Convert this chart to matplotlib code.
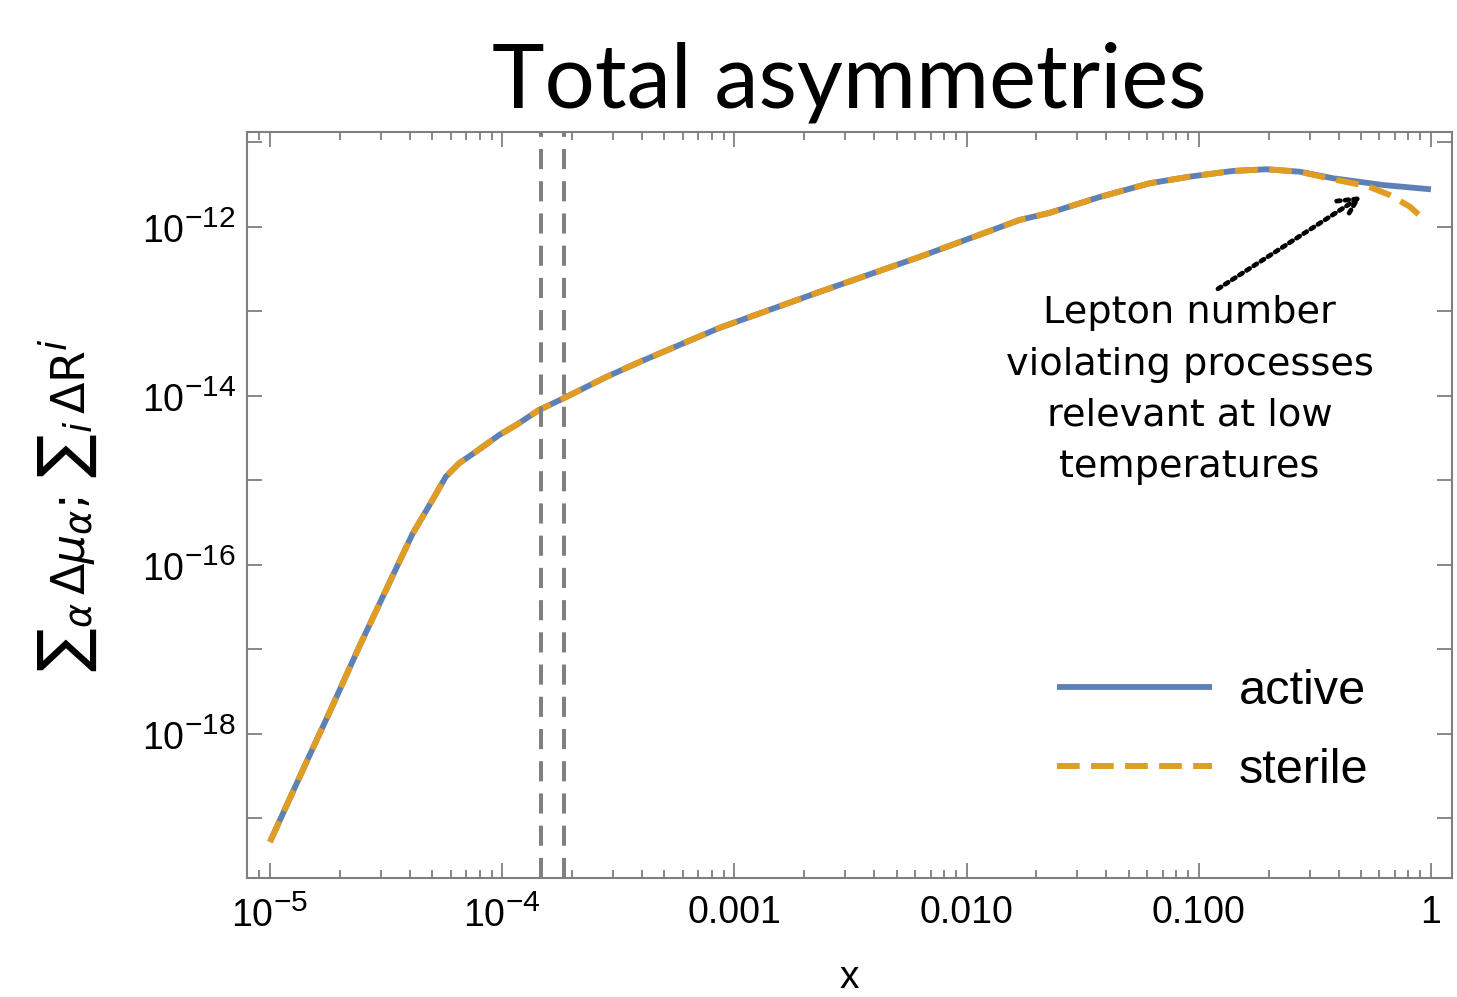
import numpy as np
import matplotlib.pyplot as plt
import matplotlib._mathtext as mathtext_internals
from matplotlib.ticker import FixedLocator, NullFormatter, FuncFormatter

plt.rcParams['mathtext.fontset'] = 'custom'
plt.rcParams['mathtext.rm'] = 'Liberation Sans'
plt.rcParams['mathtext.it'] = 'Liberation Sans:italic'
plt.rcParams['mathtext.bf'] = 'Liberation Sans:bold'
# bigger exponents, closer to the original tick labels
mathtext_internals.SHRINK_FACTOR = 0.8

# curves
x_active = [1.0e-5, 1.43e-5, 1.85e-5, 2.42e-5, 3.16e-5, 4.10e-5, 5.01e-5, 5.72e-5,
            6.53e-5, 7.71e-5, 9.70e-5, 1.15e-4, 1.44e-4, 1.85e-4, 2.81e-4, 3.90e-4, 8.61e-4,
            2.32e-3, 6.27e-3, 1.69e-2, 2.28e-2, 3.74e-2, 6.15e-2, 0.0914, 0.140, 0.196, 0.272,
            0.379, 0.621, 1.0]
y_active = [5.27e-20, 4.54e-19, 2.09e-18, 1.07e-17, 5.06e-17, 2.30e-16, 5.87e-16, 1.11e-15,
            1.60e-15, 2.19e-15, 3.45e-15, 4.54e-15, 6.82e-15, 9.46e-15, 1.68e-14, 2.52e-14, 6.38e-14,
            1.70e-13, 4.42e-13, 1.21e-12, 1.47e-12, 2.26e-12, 3.29e-12, 3.94e-12, 4.60e-12, 4.82e-12, 4.51e-12,
            3.77e-12, 3.14e-12, 2.79e-12]
x_sterile = [1.0e-5, 1.43e-5, 1.85e-5, 2.42e-5, 3.16e-5, 4.10e-5, 5.01e-5, 5.72e-5,
             6.53e-5, 7.71e-5, 9.70e-5, 1.15e-4, 1.44e-4, 1.85e-4, 2.81e-4, 3.90e-4, 8.61e-4,
             2.32e-3, 6.27e-3, 1.69e-2, 2.28e-2, 3.74e-2, 6.15e-2, 0.0914, 0.140, 0.196, 0.272,
             0.379, 0.530, 0.665, 0.811, 0.942]
y_sterile = [5.27e-20, 4.54e-19, 2.09e-18, 1.07e-17, 5.06e-17, 2.30e-16, 5.87e-16, 1.11e-15,
             1.60e-15, 2.19e-15, 3.45e-15, 4.54e-15, 6.82e-15, 9.46e-15, 1.68e-14, 2.52e-14, 6.38e-14,
             1.70e-13, 4.42e-13, 1.21e-12, 1.47e-12, 2.26e-12, 3.29e-12, 3.94e-12, 4.60e-12, 4.82e-12, 4.51e-12,
             3.66e-12, 3.06e-12, 2.39e-12, 1.74e-12, 1.21e-12]
x_vlines = [1.47e-4, 1.85e-4]

blue = '#5E81B5'
orange = '#E19C24'
frame = '#7f7f7f'

fig = plt.figure(figsize=(14.57, 9.97), dpi=100)
ax = fig.add_axes([0.1695, 0.1194, 0.8271, 0.7482])

ax.plot(x_active, y_active, color=blue, lw=4.2, label='active', solid_capstyle='butt',
        solid_joinstyle='round')
ax.plot(x_sterile, y_sterile, color=orange, lw=4.3, ls=(0, (3.8, 1.9)), label='sterile')
for xv in x_vlines:
    ax.axvline(xv, color='#808080', lw=2.9, ls=(0, (5, 3)))

ax.set_xscale('log')
ax.set_yscale('log')
ax.set_xlim(10**-5.099, 10**0.091)
ax.set_ylim(10**-19.704, 10**-10.876)

# ticks
ax.xaxis.set_major_locator(FixedLocator([1e-5, 1e-4, 1e-3, 1e-2, 1e-1, 1]))
minors = [m * 10.0**e for e in range(-6, 1) for m in range(2, 10)]
ax.xaxis.set_minor_locator(FixedLocator(minors))
ax.xaxis.set_minor_formatter(NullFormatter())
xlabels = {1e-5: r'$10^{-5}$', 1e-4: r'$10^{-4}$', 1e-3: '0.001', 1e-2: '0.010', 1e-1: '0.100', 1: '1'}
ax.xaxis.set_major_formatter(FuncFormatter(lambda v, p: min(xlabels.items(), key=lambda kv: abs(np.log10(kv[0]) - np.log10(v)))[1]))

ax.yaxis.set_major_locator(FixedLocator([10.0**e for e in range(-20, -10)]))
ax.yaxis.set_minor_locator(FixedLocator([]))
ax.yaxis.set_major_formatter(FuncFormatter(lambda v, p: r'$10^{%d}$' % round(np.log10(v)) if round(np.log10(v)) % 2 == 0 else ''))

ax.tick_params(which='both', direction='in', top=True, right=True, color=frame,
               labelsize=27, labelcolor='black', width=1.3)
ax.tick_params(axis='x', which='major', length=11, pad=12)
ax.tick_params(axis='x', which='minor', length=6)
ax.tick_params(axis='y', which='major', length=11, pad=8)
for lab in ax.get_xticklabels() + ax.get_yticklabels():
    lab.set_fontfamily('Liberation Sans')
for s in ax.spines.values():
    s.set_color(frame)
    s.set_linewidth(1.5)

ax.set_title('Total asymmetries', fontsize=64, family='Lato', pad=18)
ax.set_xlabel('x', fontsize=28, family='Liberation Sans', labelpad=18)
ax.set_ylabel(r'$\sum{}_{\alpha}\,\Delta\mu_{\alpha};\,\sum{}_{i}\,\Delta\mathrm{R}^{i}$', fontsize=33,
              labelpad=31, math_fontfamily='dejavusans')

ax.annotate('', xy=(0.505, 2.33e-12), xytext=(0.121, 1.85e-13),
            arrowprops=dict(arrowstyle='->', color='black', lw=3.4, ls=(0, (0.8, 1.0)),
                            mutation_scale=34, shrinkA=0, shrinkB=0))
ax.text(0.0914, 1.17e-14, 'Lepton number\nviolating processes\nrelevant at low\ntemperatures',
        ha='center', va='center', fontsize=27.5, family='DejaVu Sans', linespacing=1.55)

ax.legend(loc='lower right', bbox_to_anchor=(0.967, 0.055), frameon=False,
          handlelength=3.2, handletextpad=0.55, labelspacing=0.7,
          prop={'family': 'Liberation Sans', 'size': 35})

fig.savefig('out.png', dpi=100)
